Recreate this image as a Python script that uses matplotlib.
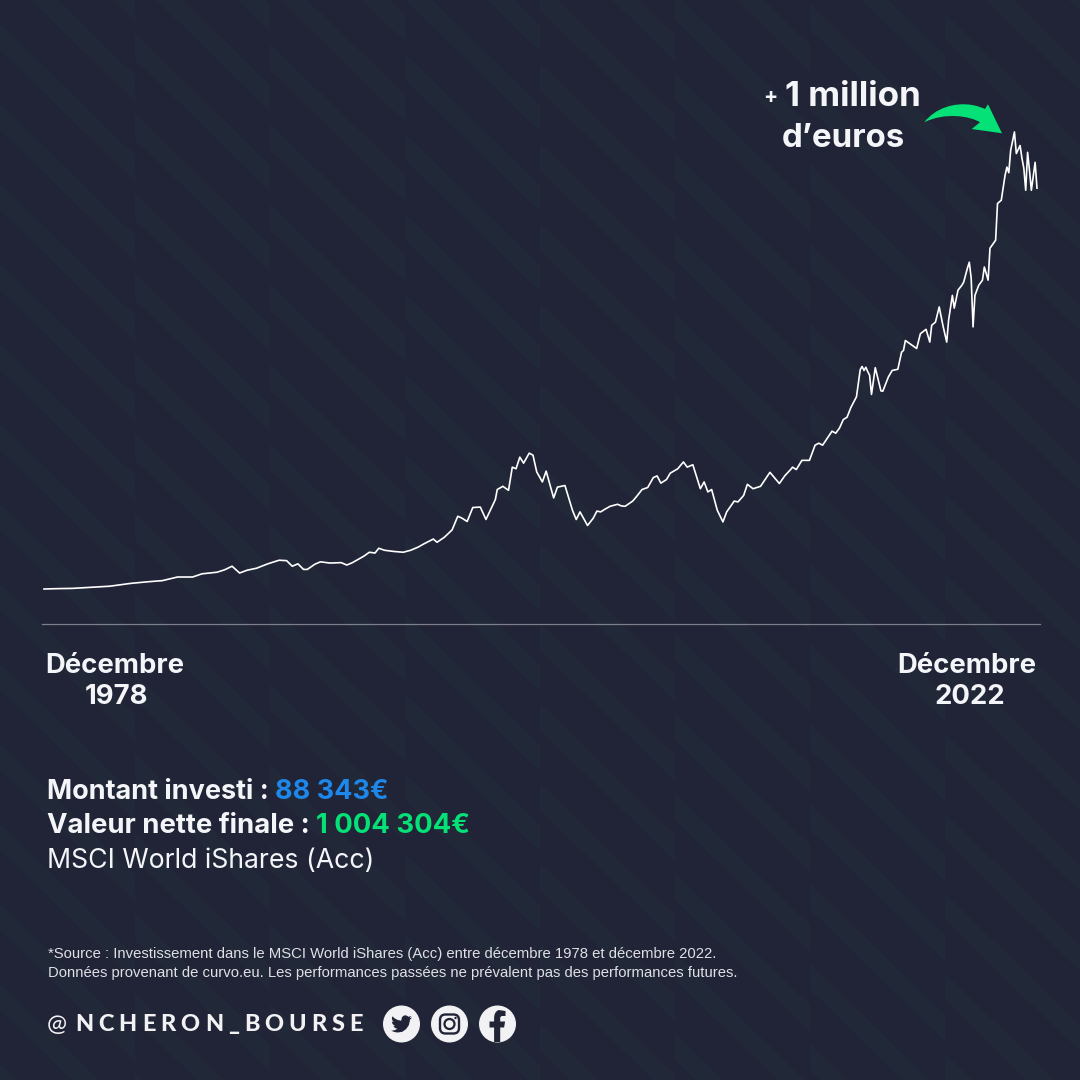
import matplotlib
matplotlib.use("Agg")
import matplotlib.pyplot as plt
from matplotlib.font_manager import FontProperties
from matplotlib.patches import Circle, FancyBboxPatch, PathPatch, Polygon
from matplotlib.path import Path
from matplotlib.textpath import TextPath

# Months elapsed since December 1978
months = [0, 8, 15, 24, 35, 46, 55, 63, 71, 79,
          84, 92, 96, 100, 104, 108, 113, 119, 125, 129,
          132, 135, 138, 140, 144, 147, 152, 158, 161, 164,
          170, 173, 176, 178, 181, 186, 191, 195, 199, 202,
          207, 209, 213, 217, 220, 222, 225, 228, 232, 235,
          240, 241, 244, 247, 249, 251, 253, 255, 258, 260,
          262, 265, 267, 271, 273, 277, 281, 283, 285, 289,
          292, 294, 296, 298, 301, 305, 307, 309, 313, 315,
          318, 321, 324, 326, 328, 331, 333, 337, 340, 342,
          345, 349, 351, 353, 355, 358, 361, 363, 367, 369,
          372, 374, 377, 381, 386, 391, 394, 397, 398, 400,
          403, 407, 410, 412, 414, 419, 421, 423, 425, 427,
          429, 432, 434, 435, 436, 437, 438, 439, 440, 442,
          445, 446, 449, 451, 454, 456, 457, 458, 461, 464,
          466, 469, 471, 472, 474, 476, 478, 480, 481, 483,
          484, 486, 488, 489, 491, 492, 493, 494, 495, 497,
          499, 500, 502, 503, 506, 507, 509, 511, 512, 513,
          514, 516, 517, 519, 520, 521, 522, 523, 524, 525, 527, 528]

# Portfolio value in thousands of euros
value_keur = [1, 2, 2.5, 5, 8, 15, 19, 22, 31, 31,
              39, 43, 49, 58, 41, 48, 53, 64, 73, 72,
              58, 64, 50, 50, 63, 69, 66, 67, 61, 67,
              83, 93, 91, 103, 98, 95, 93, 98, 106, 114,
              126, 118, 131, 149, 183, 179, 170, 205, 206, 175,
              225, 250, 258, 248, 306, 302, 331, 316, 341, 336,
              294, 269, 296, 229, 256, 260, 198, 175, 194, 160,
              178, 196, 194, 200, 208, 213, 209, 208, 221, 232,
              250, 255, 280, 284, 266, 275, 291, 302, 319, 306,
              312, 252, 269, 244, 250, 198, 169, 194, 221, 219,
              235, 263, 252, 258, 293, 265, 285, 300, 306, 300,
              323, 323, 361, 366, 361, 396, 391, 404, 425, 431,
              455, 482, 550, 558, 548, 556, 545, 536, 488, 555,
              497, 496, 532, 548, 551, 594, 598, 623, 613, 603,
              640, 651, 619, 661, 669, 707, 660, 619, 674, 736,
              704, 749, 761, 769, 804, 819, 779, 657, 736, 761,
              774, 807, 774, 854, 874, 966, 974, 1036, 1057, 1043,
              1099, 1145, 1091, 1111, 1079, 1054, 999, 1094, 1049, 999, 1069, 1004.3]

start_label = ["Décembre", "1978"]
end_label = ["Décembre", "2022"]
invested_label = "Montant investi : "
invested_amount = "88 343€"
final_label = "Valeur nette finale : "
final_amount = "1 004 304€"
fund_name = "MSCI World iShares (Acc)"
source_lines = [
    "*Source : Investissement dans le MSCI World iShares (Acc) entre décembre 1978 et décembre 2022.",
    "Données provenant de curvo.eu. Les performances passées ne prévalent pas des performances futures.",
]
handle = "NCHERON_BOURSE"

BG = "#212336"
STRIPE = "#212837"
WHITE = "#f4f5f8"
GREEN = "#05e077"
BLUE = "#1e87ea"
ICON = "#f2f2f4"
HEAD_FONT = "Inter"

fig = plt.figure(figsize=(10.8, 10.8), dpi=100, facecolor=BG)

# Canvas axes in pixel units for the backdrop, captions and icons
bg = fig.add_axes([0, 0, 1, 1], zorder=0)
bg.set_xlim(0, 1080)
bg.set_ylim(1080, 0)
bg.axis("off")

# Tiled diagonal stripes, each tile shifted against the previous one
TILE, PERIOD, THICK, SLOPE = 135, 80, 26.7, 0.975
for col in range(9):
    x0, x1 = col * TILE, (col + 1) * TILE
    y0 = 23.3 + 10 * col
    for k in range(-4, 17):
        top = y0 + k * PERIOD
        bg.add_patch(Polygon([(x0, top), (x1, top + SLOPE * TILE),
                              (x1, top + SLOPE * TILE + THICK), (x0, top + THICK)],
                             closed=True, fc=STRIPE, ec="none", zorder=0))

# Price curve
PX_MONTH = 528 / 993
PX_KEUR = 2.503
ax = fig.add_axes([42 / 1080, (1080 - 624) / 1080, 998 / 1080, 524 / 1080], zorder=1)
ax.patch.set_alpha(0)
ax.set_xlim(-2 * PX_MONTH, 528 + 3 * PX_MONTH)
ax.set_ylim(-34.6 * PX_KEUR, 489.4 * PX_KEUR)
ax.plot(months, value_keur, color="#ffffff", lw=1.2, solid_joinstyle="round", zorder=3)
for side in ("top", "left", "right"):
    ax.spines[side].set_visible(False)
ax.spines["bottom"].set_color("#7d808c")
ax.spines["bottom"].set_linewidth(0.9)
ax.set_xticks([])
ax.set_yticks([])


def px(size):
    return size * 0.72


def label(x, y, s, size, color=WHITE, weight="bold", family=HEAD_FONT, ha="left", **kw):
    return bg.text(x, y, s, fontsize=px(size), color=color, fontweight=weight, family=family,
                   ha=ha, va="baseline", zorder=5, **kw)


def advance(s, size, weight="bold", family=HEAD_FONT):
    # Horizontal advance of a string, measured with trailing spaces kept
    fp = FontProperties(family=family, weight=weight)
    full = TextPath((0, 0), s + "|", size=size, prop=fp).get_extents().x1
    bar = TextPath((0, 0), "|", size=size, prop=fp).get_extents().x1
    return full - bar


# Callout above the peak
label(763.5, 103, "+", 21)
label(785, 106, "1 million", 35)
label(782, 147, "d’euros", 33)
arrow = Path(
    [(924.3, 122.3), (935, 108), (955, 102), (972, 105), (978, 106), (983, 108), (985, 109),
     (988, 104.3), (1002, 133.3), (971.7, 129), (980, 122.3),
     (970, 116), (945, 112), (924.3, 122.3), (924.3, 122.3)],
    [Path.MOVETO, Path.CURVE4, Path.CURVE4, Path.CURVE4, Path.CURVE4, Path.CURVE4, Path.CURVE4,
     Path.LINETO, Path.LINETO, Path.LINETO, Path.LINETO,
     Path.CURVE4, Path.CURVE4, Path.CURVE4, Path.CLOSEPOLY])
bg.add_patch(PathPatch(arrow, fc=GREEN, ec="none", zorder=5))

# Date captions under the baseline
label(45, 673, start_label[0], 27.5)
label(116.5, 704, start_label[1], 27.5, ha="center")
label(897, 673, end_label[0], 27.5)
label(969.5, 704, end_label[1], 27.5, ha="center")

# Summary block with coloured amounts
label(47, 799, invested_label, 27)
label(47 + advance(invested_label, 27), 799, invested_amount, 27, color=BLUE)
label(47, 833, final_label, 27.5)
label(47 + advance(final_label, 27.5), 833, final_amount, 27.5, color=GREEN)
label(47, 868, fund_name, 26.7, weight="normal")

# Source note
label(48, 958, source_lines[0], 14.9, family="Liberation Sans", weight="normal", color="#dfe0e6")
label(48, 977, source_lines[1], 14.9, family="Liberation Sans", weight="normal", color="#dfe0e6")

# Social handle with wide letter spacing fitted to its run length
label(47, 1031, "@", 24, color=ICON, weight="normal", family="Lato")
HANDLE_SIZE = 23.5
gaps = [advance(ch, HANDLE_SIZE, weight="black", family="Lato") for ch in handle]
track = (288 - sum(gaps)) / (len(handle) - 1)
cursor = 75.0
for ch, gap in zip(handle, gaps):
    label(cursor, 1031, ch, HANDLE_SIZE, color=ICON, weight="black", family="Lato")
    cursor += gap + track

# Social icons
for cx in (401.5, 449.5, 497.5):
    bg.add_patch(Circle((cx, 1024), 18.5, fc=ICON, ec="none", zorder=5))

bird = [(23.95, 4.57), (21.13, 5.35), (23.29, 2.62), (20.16, 3.81), (18.5, 2.7), (16.5, 2.0), (14.2, 2.6),
        (12.6, 4.2), (12.0, 6.2), (11.78, 8.29), (7.7, 7.4), (4.2, 5.6), (1.64, 3.16), (0.97, 5.64),
        (1.6, 7.9), (3.16, 9.73), (0.93, 9.12), (1.6, 11.6), (3, 13.1), (4.88, 14.0), (2.67, 14.09),
        (4.6, 16.6), (7.27, 17.51), (4.5, 19), (1.17, 19.61), (0, 19.54), (3.6, 21.1), (7.56, 21.75),
        (13, 20.9), (17.3, 17.8), (20.3, 13.5), (21.56, 8.5), (21.54, 7.14), (23, 5.9)]
BIRD_SCALE = 21 / 24
bg.add_patch(Polygon([(401.5 + (u - 12) * BIRD_SCALE, 1024 + (v - 12) * BIRD_SCALE) for u, v in bird],
                     closed=True, fc=BG, ec="none", zorder=6))

bg.add_patch(FancyBboxPatch((449.5 - 9.5, 1024 - 9.5), 19, 19, boxstyle="round,pad=0,rounding_size=5.5",
                            fc="none", ec=BG, lw=1.7, zorder=6))
bg.add_patch(Circle((449.5, 1024), 5.0, fc="none", ec=BG, lw=1.6, zorder=6))
bg.add_patch(Circle((455.5, 1018), 1.2, fc=BG, ec="none", zorder=6))

fx = 497.5
fb = Path(
    [(fx - 3.4, 1042), (fx - 3.4, 1027.5), (fx - 8, 1027.5), (fx - 8, 1021.5), (fx - 3.4, 1021.5),
     (fx - 3.4, 1018), (fx - 3.4, 1012), (fx + 1, 1010), (fx + 8, 1011), (fx + 8, 1016),
     (fx + 5, 1016), (fx + 2.7, 1016), (fx + 2.7, 1018), (fx + 2.7, 1021.5), (fx + 7.6, 1021.5),
     (fx + 6.6, 1027.5), (fx + 2.7, 1027.5), (fx + 2.7, 1042), (fx - 3.4, 1042)],
    [Path.MOVETO, Path.LINETO, Path.LINETO, Path.LINETO, Path.LINETO,
     Path.LINETO, Path.CURVE3, Path.CURVE3, Path.LINETO, Path.LINETO,
     Path.LINETO, Path.CURVE3, Path.CURVE3, Path.LINETO, Path.LINETO,
     Path.LINETO, Path.LINETO, Path.LINETO, Path.CLOSEPOLY])
bg.add_patch(PathPatch(fb, fc=BG, ec="none", zorder=6))

fig.savefig("out.png", dpi=100, facecolor=BG)
